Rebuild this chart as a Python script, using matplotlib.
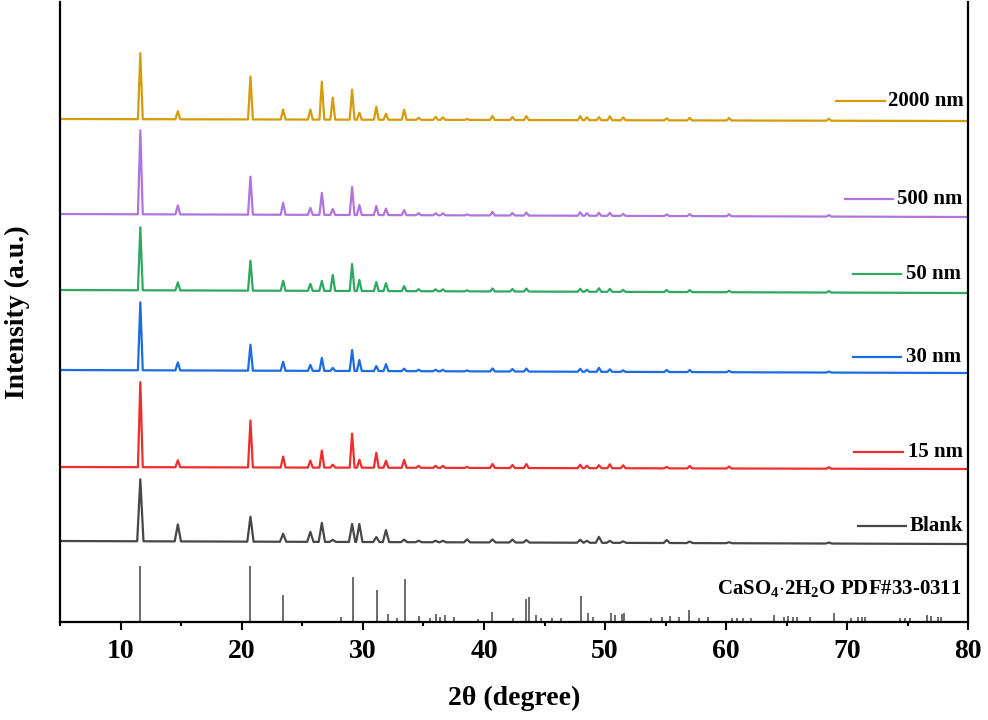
import numpy as np
import matplotlib
matplotlib.use('Agg')
import matplotlib.pyplot as plt
from matplotlib.ticker import MultipleLocator

plt.rcParams['font.family'] = ['Liberation Serif', 'DejaVu Serif']
plt.rcParams['font.weight'] = 'bold'
plt.rcParams['mathtext.fontset'] = 'custom'
plt.rcParams['mathtext.rm'] = 'Liberation Serif:bold'
plt.rcParams['mathtext.it'] = 'Liberation Serif:bold'
plt.rcParams['mathtext.bf'] = 'Liberation Serif:bold'

# 峰位 (2θ) —— 所有样品共用
peak_pos = [11.6, 14.7, 20.7, 23.4, 25.65, 26.6, 27.5, 29.1, 29.7, 31.1, 31.9,
            33.4, 34.6, 36.0, 36.6, 38.6, 40.7, 42.35, 43.5, 47.95, 48.5, 49.5,
            50.4, 51.5, 55.1, 57.0, 60.25, 68.5]

# 各样品峰强 (a.u.)
h_2000 = [66, 8, 43, 10, 10, 38, 22, 30, 7, 13, 6, 10, 2, 3, 2.5, 1, 4, 3, 4,
          4, 3, 3, 4, 3, 2, 2.5, 2.5, 2]
h_500 = [84, 9, 38, 12, 7, 22, 6, 28, 10, 9, 6.5, 5, 2, 2, 2, 1, 3.5, 2.5, 3,
         3.5, 2.5, 3, 3, 2, 1.5, 2, 2, 1.5]
h_50 = [63, 8, 30, 10, 7, 10, 16, 27, 11, 9, 8, 5, 2, 2, 2, 1, 3, 2.5, 3, 3,
        2, 3.5, 3, 2, 2, 2, 1.5, 1.5]
h_30 = [68, 8, 26, 9, 6, 13, 3, 21, 11, 5, 7, 2.5, 1.5, 1.5, 1.5, 1, 3, 2.5,
        3, 3, 2, 4, 2.5, 1.5, 2, 2, 1.5, 1]
h_15 = [85, 7, 47, 11, 7, 17, 3, 34, 8, 15, 7, 8, 2, 2, 2, 1, 4, 3, 4, 3.5,
        2.5, 3, 4, 3, 1.5, 2.5, 2, 1.5]
h_blank = [62, 17, 25, 8, 10, 19, 2, 18, 18, 5, 12, 2.5, 1.5, 1.5, 1.5, 3, 3,
           3, 2.5, 3, 2, 6, 2, 1.5, 3, 1.5, 1, 1]

# 基线 (左端, 右端) —— 纵向错开
base_2000 = [503, 501]
base_500 = [408, 405]
base_50 = [332, 329]
base_30 = [252, 249]
base_15 = [155, 153]
base_blank = [81, 78]

labels = ['Blank', '15 nm', '30 nm', '50 nm', '500 nm', '2000 nm']
colors = ['#474747', '#EE2E2E', '#1C6BE3', '#2FA862', '#B075DD', '#D49B0B']
heights = [h_blank, h_15, h_30, h_50, h_500, h_2000]
bases = [base_blank, base_15, base_30, base_50, base_500, base_2000]
widths = [0.26, 0.2, 0.2, 0.2, 0.2, 0.2]

# 标签位置: (线段起点, 线段终点, 文字x, y)
label_pos = [(70.9, 74.9, 75.2, 96), (70.6, 74.6, 75.0, 170),
             (70.5, 74.5, 74.9, 265), (70.5, 74.5, 74.9, 348),
             (69.8, 73.8, 74.1, 423), (69.1, 73.1, 73.4, 521)]

# 标准卡片 PDF#33-0311
pdf_pos = [11.6, 20.7, 23.4, 28.15, 29.15, 31.15, 32.1, 32.85, 33.45, 34.65,
           35.5, 36.05, 36.4, 36.8, 37.5, 39.5, 40.7, 42.4, 43.45, 43.75, 44.3,
           44.7, 45.6, 46.4, 48.0, 48.6, 49.0, 50.5, 50.8, 51.4, 51.6, 53.8,
           54.7, 55.4, 56.1, 56.95, 57.8, 58.5, 60.5, 60.9, 61.4, 62.1, 64.0,
           64.8, 65.1, 65.5, 65.9, 66.9, 68.9, 70.3, 70.9, 71.2, 71.5, 74.4,
           74.8, 75.2, 76.6, 76.9, 77.5, 77.8]
pdf_int = [56, 56, 27, 5, 45, 32, 8, 4, 43, 6, 4, 8, 5, 7, 5, 3.5, 10, 4, 23,
           25, 7, 4, 4, 4, 26, 8.7, 5, 9, 7, 8, 8.7, 4, 5, 6, 5, 11.6, 4, 5, 4,
           4, 4, 4, 7, 5, 6, 5, 5, 5, 9, 4, 5, 5, 5, 4, 4, 4, 7, 6, 5, 5]


def trace(pos, h, base, w, x0=5, x1=80):
    # 每个峰画成一个尖峰
    xs = [x0]
    for p in pos:
        xs += [p - w, p, p + w]
    xs.append(x1)
    xs = np.array(xs)
    ys = np.interp(xs, [x0, x1], base)
    ys[2::3][:len(pos)] += np.array(h)
    return xs, ys


fig = plt.figure(figsize=(9.88, 7.2), dpi=100)
ax = fig.add_axes([0.0612, 0.1361, 0.9186, 0.8611])

for lab, c, h, b, w, lp in zip(labels, colors, heights, bases, widths, label_pos):
    xs, ys = trace(peak_pos, h, b, w)
    ax.plot(xs, ys, color=c, lw=1.6)
    ax.plot([lp[0], lp[1]], [lp[3], lp[3]], color=c, lw=1.6)
    ax.text(lp[2], lp[3], lab, fontsize=15, fontweight='bold',
            va='center', ha='left')

ax.vlines(pdf_pos, 0, pdf_int, color='#444444', lw=1.1)
ax.text(79.5, 34, r'CaSO$_4$$\cdot$2H$_2$O PDF#33-0311', fontsize=15,
        fontweight='bold', ha='right', va='center')

ax.set_xlim(5, 80)
ax.set_ylim(0, 620)
ax.set_yticks([])
ax.xaxis.set_major_locator(MultipleLocator(10))
ax.xaxis.set_minor_locator(MultipleLocator(5))
ax.tick_params(axis='x', which='major', direction='out', length=6, width=1.5,
               labelsize=20, pad=6)
ax.tick_params(axis='x', which='minor', direction='out', length=3, width=1.5)
for lbl in ax.get_xticklabels():
    lbl.set_fontweight('bold')
for s in ['left', 'right', 'bottom']:
    ax.spines[s].set_linewidth(1.6)
ax.spines['top'].set_visible(False)

ax.set_xlabel('2θ (degree)', fontsize=20, fontweight='bold', labelpad=16)
ax.set_ylabel('Intensity (a.u.)', fontsize=20, fontweight='bold', labelpad=22)

fig.savefig('out.png', dpi=100)
